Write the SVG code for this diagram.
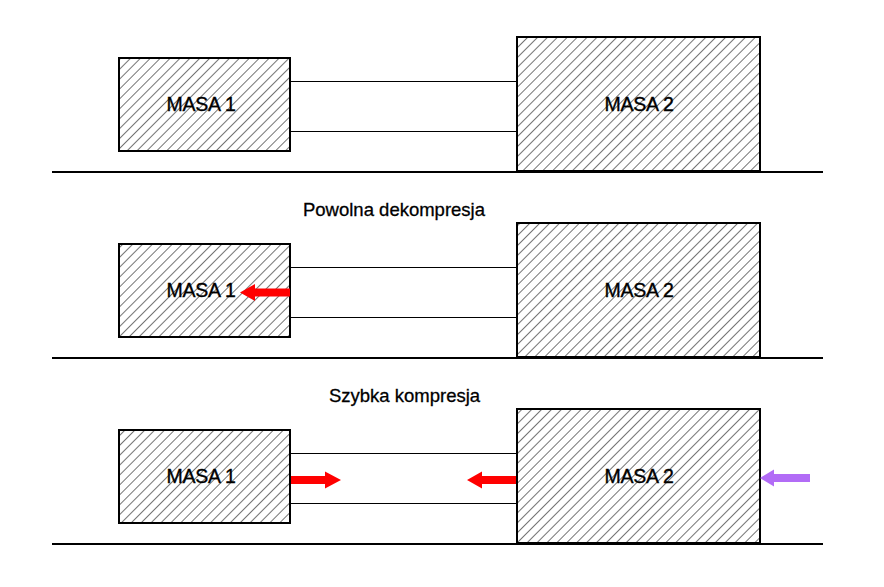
<svg xmlns="http://www.w3.org/2000/svg" width="884" height="587" viewBox="0 0 884 587">
<defs>
<pattern id="hatch" patternUnits="userSpaceOnUse" width="7" height="7" patternTransform="rotate(45)">
<line x1="0" y1="-1" x2="0" y2="8" stroke="#000" stroke-width="1.1"/>
</pattern>
<style>
.box{fill:url(#hatch);stroke:#000;stroke-width:2}
.ln{stroke:#000;stroke-width:1;fill:none;shape-rendering:crispEdges}
.gnd{stroke:#000;stroke-width:1.5;fill:none;shape-rendering:crispEdges}
.lbl{font-family:"Liberation Sans",Arial,sans-serif;font-size:19.5px;fill:#000;stroke:#000;stroke-width:0.35;text-anchor:middle;letter-spacing:-0.2px}
.ttl{font-family:"Liberation Sans",Arial,sans-serif;font-size:18.5px;fill:#000;stroke:#000;stroke-width:0.3;text-anchor:middle}
.red{fill:#ff0000}
.pur{fill:#b26cf6}
</style>
</defs>
<rect width="884" height="587" fill="#fff"/>
<g id="connectors">
<line class="ln" x1="290" y1="81.5" x2="517" y2="81.5"/>
<line class="ln" x1="290" y1="131.5" x2="517" y2="131.5"/>
<line class="gnd" x1="52" y1="172" x2="823" y2="172"/>
<line class="ln" x1="290" y1="267.5" x2="517" y2="267.5"/>
<line class="ln" x1="290" y1="317.5" x2="517" y2="317.5"/>
<line class="gnd" x1="52" y1="358" x2="823" y2="358"/>
<line class="ln" x1="290" y1="453.5" x2="517" y2="453.5"/>
<line class="ln" x1="290" y1="503.5" x2="517" y2="503.5"/>
<line class="gnd" x1="52" y1="544" x2="823" y2="544"/>
</g>
<g id="row1">
<g id="masa1-a"><rect class="box" x="119" y="58" width="171" height="93"/><text class="lbl" x="201" y="111">MASA 1</text></g>
<g id="masa2-a"><rect class="box" x="517" y="37" width="243" height="134"/><text class="lbl" x="639" y="111">MASA 2</text></g>
</g>
<g id="row2">
<text class="ttl" x="394" y="216">Powolna dekompresja</text>
<g id="masa1-b"><rect class="box" x="119" y="244" width="171" height="93"/><text class="lbl" x="201" y="297">MASA 1</text></g>
<g id="masa2-b"><rect class="box" x="517" y="223" width="243" height="134"/><text class="lbl" x="639" y="297">MASA 2</text></g>
<polygon id="arrow-b" class="red" points="290,288.5 255,288.5 255,284 240,292.5 255,301 255,296.5 290,296.5"/>
</g>
<g id="row3">
<text class="ttl" x="404.5" y="402">Szybka kompresja</text>
<g id="masa1-c"><rect class="box" x="119" y="430" width="171" height="93"/><text class="lbl" x="201" y="483">MASA 1</text></g>
<g id="masa2-c"><rect class="box" x="517" y="409" width="243" height="134"/><text class="lbl" x="639" y="483">MASA 2</text></g>
<polygon id="arrow-c1" class="red" points="291,476 325,476 325,471.5 341,480 325,488.5 325,484 291,484"/>
<polygon id="arrow-c2" class="red" points="516,476 482,476 482,471.5 467,480 482,488.5 482,484 516,484"/>
<polygon id="arrow-c3" class="pur" points="810,474 774,474 774,469.5 760,478 774,486.5 774,482 810,482"/>
</g>
</svg>
